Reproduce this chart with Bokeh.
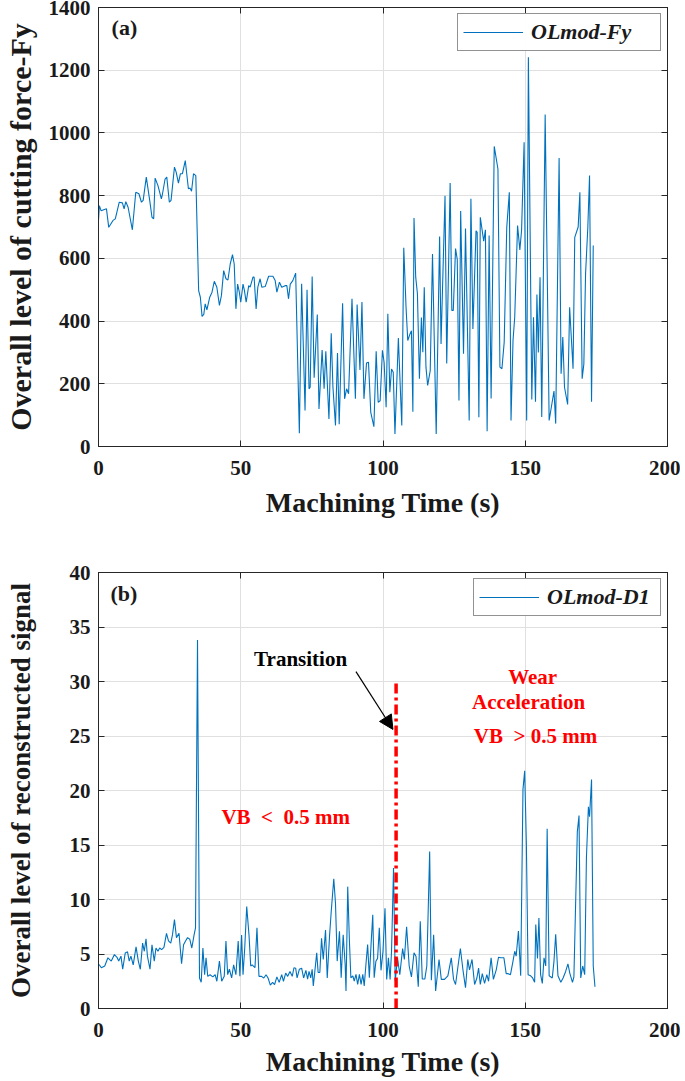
from bokeh.plotting import figure
from bokeh.models import (Range1d, LinearAxis, Legend, LegendItem, Label, Arrow,
                          NormalHead, FixedTicker)
from bokeh.layouts import column
from bokeh.embed import file_html
from bokeh.resources import INLINE

# ---------------- data ----------------
t_fy = [0, 0.3, 0.9, 2.8, 3.6, 5.1, 5.9, 7.3, 8.4, 9.0, 9.6, 10.4, 11.9, 13.1, 14.2, 15.1, 15.7,
        16.8, 18.0, 18.8, 19.4, 19.9, 20.9, 22.1, 22.5, 23.4, 24.0, 24.9, 25.5, 26.7, 27.3, 28.1,
        28.8, 29.5, 30.5, 31.6, 32.2, 32.7, 33.4, 34.2, 35.2, 35.8, 36.4, 37.0, 37.5, 38.1, 39.1,
        39.9, 40.7, 41.6, 42.5, 43.2, 44.0, 44.8, 45.5, 46.3, 47.1, 47.7, 48.3, 48.9, 49.5, 50.0,
        50.8, 51.3, 51.9, 52.8, 53.3, 54.3, 54.7, 55.4, 56.0, 56.8, 57.4, 58.6, 59.8, 61.3, 62.1,
        62.7, 63.6, 64.4, 65.6, 66.2, 66.8, 67.4, 68.3, 69.3, 70.6, 71.4, 72.6, 73.3, 74.0, 74.4,
        75.1, 75.8, 76.9, 77.5, 78.6, 79.3, 79.9, 81.0, 81.8, 82.4, 83.3, 84.0, 84.6, 85.8, 86.5,
        87.2, 87.9, 89.1, 90.3, 90.9, 91.9, 92.6, 93.3, 94.2, 94.9, 95.7, 96.8, 97.6, 98.3, 99.0,
        99.8, 100.4, 101.1, 101.7, 102.4, 103.0, 103.6, 104.2, 105.4, 106.6, 107.3, 108.1, 108.7,
        109.5, 110.0, 110.5, 110.9, 111.5, 112.1, 112.8, 113.5, 114.0, 114.5, 115.1, 115.7, 116.6,
        117.4, 118.7, 119.9, 120.4, 121.8, 122.4, 123.6, 124.2, 124.7, 125.5, 126.1, 126.7, 127.3,
        128.3, 129.0, 130.3, 130.9, 131.6, 132.7, 133.1, 133.7, 134.2, 135.4, 136.0, 136.6, 137.3,
        138.0, 139.1, 140.4, 141.1, 141.8, 142.6, 143.5, 144.4, 145.0, 145.7, 146.3, 147.3, 148.1,
        148.7, 149.6, 150.5, 151.1, 152.3, 152.9, 153.6, 154.1, 154.6, 155.2, 155.8, 157.0, 158.4,
        160.1, 160.7, 161.9, 162.6, 163.2, 163.8, 164.9, 165.6, 166.8, 167.4, 168.6, 169.2, 170.0,
        170.6, 171.2, 172.0, 172.6, 173.3, 173.9, 174.5]
fy = [721, 768, 752, 758, 699, 721, 726, 779, 777, 758, 781, 763, 691, 811, 806, 779, 785,
      859, 785, 731, 726, 856, 832, 790, 806, 853, 859, 779, 785, 891, 875, 840,
      870, 870, 912, 822, 824, 814, 870, 864, 497, 476, 415, 421, 455, 436, 476,
      492, 527, 508, 450, 481, 561, 535, 531, 582, 612, 582, 439, 518, 492, 460,
      518, 497, 460, 513, 508, 540, 540, 439, 508, 535, 508, 510, 543, 543, 529,
      492, 524, 508, 513, 513, 471, 518, 529, 553, 42, 519, 115, 500, 184, 189,
      542, 219, 421, 120, 308, 184, 304, 88, 361, 190, 67, 298, 71, 457, 152,
      184, 168, 471, 152, 453, 244, 461, 152, 266, 269, 109, 63, 304, 141, 146,
      307, 268, 125, 423, 173, 247, 237, 40, 346, 67, 634, 444, 338,
      359, 369, 111, 729, 540, 487, 216, 411, 301, 508, 253, 195, 242,
      614, 40, 670, 327, 800, 265, 840, 434, 434, 631, 597, 147, 751,
      296, 695, 83, 790, 375, 688, 683, 93, 731, 655, 691, 49,
      673, 153, 957, 885, 253, 248, 333, 699, 811, 83, 338, 412, 705,
      627, 688, 970, 83, 1241, 150, 412, 143, 485, 300, 540, 94, 1059,
      83, 177, 73, 920, 232, 349, 189, 134, 444, 248, 667, 700, 811,
      216, 263, 551, 700, 864, 143, 641]

t_d1 = [0.2, 1.0, 2.2, 3.3, 4.5, 5.6, 6.5, 7.1, 7.9, 8.5, 9.4, 10.2, 10.8, 11.4, 12.2, 13.2, 14.0,
        14.7, 15.5, 16.1, 16.7, 17.2, 18.1, 18.8, 19.6, 20.2, 20.9, 21.5, 22.2, 23.0, 23.9, 24.6,
        25.4, 26.0, 26.7, 27.4, 28.3, 29.2, 29.9, 30.6, 31.3, 32.1, 32.8, 33.6, 34.1, 34.8, 35.5,
        36.1, 36.7, 37.3, 37.8, 38.4, 39.2, 40.2, 41.0, 41.6, 42.5, 43.3, 44.2, 44.8, 45.4, 46.0,
        46.8, 47.5, 48.3, 49.1, 49.7, 50.3, 50.8, 51.4, 52.1, 52.9, 53.5, 54.0, 55.0, 55.7, 56.4,
        57.3, 58.1, 58.9, 59.6, 60.4, 61.2, 61.9, 62.7, 63.5, 64.4, 65.0, 65.8, 66.5, 67.3, 68.1,
        68.7, 69.3, 69.8, 70.6, 71.4, 72.1, 72.9, 73.5, 74.0, 74.6, 75.1, 75.5, 76.0, 76.7, 77.2,
        77.8, 78.4, 79.0, 79.8, 80.4, 81.2, 81.8, 82.7, 83.3, 83.9, 84.7, 85.3, 86.0, 86.7, 87.0,
        87.6, 88.2, 88.7, 89.4, 89.9, 90.5, 91.1, 91.7, 92.3, 92.9, 93.4, 94.0, 94.6, 95.2, 95.8,
        96.4, 96.9, 97.5, 98.1, 98.7, 99.3, 100.0, 100.7, 101.3, 101.9, 102.5, 103.0, 103.7, 104.3,
        105.1, 105.9, 106.9, 107.5, 108.3, 109.2, 110.0, 110.9, 111.6, 112.4, 113.1, 113.8, 114.7,
        115.4, 116.4, 117.0, 117.8, 118.5, 119.7, 120.5, 121.6, 122.8, 124.0, 124.8, 125.5, 127.2,
        128.1, 129.0, 129.8, 130.4, 131.3, 132.2, 133.0, 133.6, 134.2, 134.9, 135.7, 136.5, 137.1,
        138.0, 138.8, 139.8, 140.6, 141.4, 142.5, 143.3, 143.9, 144.8, 145.7, 146.3, 146.8, 147.6,
        148.4, 149.2, 149.8, 150.4, 151.0, 151.9, 152.6, 153.3, 153.7, 154.3, 154.8, 155.4, 156.0,
        156.6, 157.2, 157.7, 158.4, 159.5, 160.1, 160.7, 161.5, 162.5, 163.3, 164.2, 165.0, 165.7,
        166.6, 167.1, 168.3, 168.9, 169.5, 170.2, 170.9, 171.5, 172.2, 172.6, 173.3, 173.9, 174.5]
d1 = [4.04, 3.74, 3.9, 4.65, 4.35, 4.95, 4.7, 4.35, 4.8, 3.6, 5.1, 5.2, 4.35, 4.8, 4.0, 5.65, 4.35,
      3.6, 6.0, 5.25, 6.4, 4.8, 3.6, 5.85, 4.35, 5.55, 5.25, 5.55, 5.4, 5.6, 6.9, 6.2,
      6.0, 6.75, 8.15, 6.5, 6.9, 4.1, 5.85, 6.2, 6.5, 6.35, 5.55, 6.75, 7.4, 33.8, 2.8,
      2.4, 5.55, 3.1, 4.65, 2.95, 3.1, 2.9, 3.1, 2.5, 4.35, 2.5, 2.95, 6.2, 3.1, 3.6,
      2.8, 4.0, 3.1, 6.2, 2.95, 6.75, 3.1, 5.55, 9.35, 6.75, 3.9, 4.0, 3.74, 7.4, 2.95,
      2.95, 2.8, 3.1, 2.8, 2.15, 2.4, 2.2, 2.9, 2.4, 3.1, 2.5, 3.25, 2.95, 3.4, 2.95,
      3.74, 3.7, 2.8, 3.6, 3.7, 2.8, 3.5, 2.7, 3.4, 2.8, 3.6, 2.07, 3.3, 5.1, 3.3,
      3.3, 6.45, 4.5, 7.2, 2.8, 6.6, 8.9, 11.9, 9.66, 4.35, 7.08, 2.82, 6.77, 4.04, 1.61,
      11.18, 6.17, 2.82, 2.98, 2.52, 3.13, 2.22, 3.13, 2.22, 3.13, 2.07, 4.04, 5.86, 2.82, 5.86,
      8.6, 2.82, 4.34, 4.6, 7.4, 3.5, 5.25, 9.2, 2.67, 4.65, 2.67, 5.25, 12.9, 2.5,
      4.65, 3.1, 5.5, 4.5, 7.5, 3.9, 2.9, 5.1, 4.8, 2.0, 8.0, 2.7, 2.7,
      3.9, 14.4, 2.6, 6.77, 1.6, 4.5, 2.67, 2.67, 3.0, 4.65, 2.67, 2.2, 5.5,
      3.55, 1.9, 4.5, 3.55, 4.5, 2.2, 2.8, 3.7, 2.2, 3.2, 2.3, 3.1, 2.5,
      4.65, 2.67, 3.55, 4.7, 4.65, 4.65, 3.2, 3.2, 3.1, 4.35, 5.25, 4.8, 7.1,
      3.0, 20.1, 21.8, 15.0, 3.1, 3.0, 2.8, 2.4, 7.7, 4.6, 8.3, 3.1, 2.3,
      4.65, 3.9, 16.5, 3.0, 2.8, 4.35, 6.8, 3.0, 2.4, 2.8, 3.4, 4.1, 3.2,
      2.4, 2.9, 16.2, 17.7, 2.8, 3.9, 3.1, 13.8, 18.5, 17.6, 21.0, 3.9, 2.0]

x_ticks = [0, 50, 100, 150, 200]
y_ticks_a = [0, 200, 400, 600, 800, 1000, 1200, 1400]
y_ticks_b = [0, 5, 10, 15, 20, 25, 30, 35, 40]

# ---------------- styling ----------------
FONT = "Liberation Serif"
BLUE = "#0072BD"
AX = "#262626"
TXT = "#1a1a1a"
NB = "\u00a0"


def style_axis(ax, labels=True):
    ax.axis_line_color = AX
    ax.axis_line_width = 1
    ax.major_tick_line_color = AX
    ax.major_tick_in = 6
    ax.major_tick_out = 0
    ax.minor_tick_line_color = None
    if labels:
        ax.major_label_text_font = FONT
        ax.major_label_text_font_style = "bold"
        ax.major_label_text_font_size = "21px"
        ax.major_label_text_color = TXT
    else:
        ax.major_label_text_font_size = "0px"
        ax.major_label_text_color = None
        ax.major_label_standoff = 0


def make_fig(ymax, yticks, ylabel, ylabel_size, height, top_b, bottom_b,
             label_standoff_y, tick_standoff_x, label_standoff_x):
    p = figure(width=680, height=height,
               x_range=Range1d(0, 200), y_range=Range1d(0, ymax),
               output_backend="svg", toolbar_location=None,
               min_border_left=97, min_border_right=13,
               min_border_top=top_b, min_border_bottom=bottom_b)
    p.xaxis.ticker = FixedTicker(ticks=x_ticks)
    p.yaxis.ticker = FixedTicker(ticks=yticks)
    style_axis(p.xaxis[0])
    style_axis(p.yaxis[0])
    p.xaxis.major_label_standoff = tick_standoff_x
    p.yaxis.major_label_standoff = 8
    p.xaxis.axis_label = "Machining Time (s)"
    p.yaxis.axis_label = ylabel
    for ax in (p.xaxis[0], p.yaxis[0]):
        ax.axis_label_text_font = FONT
        ax.axis_label_text_font_style = "bold"
        ax.axis_label_text_color = TXT
    p.xaxis.axis_label_text_font_size = "28px"
    p.yaxis.axis_label_text_font_size = ylabel_size
    p.xaxis.axis_label_standoff = label_standoff_x
    p.yaxis.axis_label_standoff = label_standoff_y
    ra = LinearAxis(ticker=FixedTicker(ticks=yticks))
    style_axis(ra, labels=False)
    p.add_layout(ra, "right")
    ta = LinearAxis(ticker=FixedTicker(ticks=x_ticks))
    style_axis(ta, labels=False)
    p.add_layout(ta, "above")
    p.grid.grid_line_color = "#e0e0e0"
    p.grid.grid_line_width = 1
    p.outline_line_color = AX
    p.background_fill_color = "white"
    p.border_fill_color = "white"
    return p


def add_legend(p, r, text, label_w):
    leg = Legend(items=[LegendItem(label=text, renderers=[r])], location="top_right")
    leg.label_text_font = FONT
    leg.label_text_font_style = "bold italic"
    leg.label_text_font_size = "22px"
    leg.label_text_color = TXT
    leg.border_line_color = AX
    leg.border_line_width = 1.3
    leg.glyph_width = 60
    leg.glyph_height = 18
    leg.label_standoff = 8
    leg.label_width = label_w
    leg.label_height = 18
    leg.padding = 5
    leg.margin = 6
    leg.spacing = 0
    p.add_layout(leg)


# ---------------- (a) ----------------
p1 = make_fig(1400, y_ticks_a, "Overall level of cutting force-Fy", "30px", 556, 7, 110, 9, 14, 9)
r1 = p1.line(t_fy, fy, line_color=BLUE, line_width=1.1)
add_legend(p1, r1, "OLmod-Fy", 124)
p1.add_layout(Label(x=4.6, y=1337, text="(a)", text_font=FONT, text_font_style="bold",
                    text_font_size="22px", text_baseline="middle", text_color=TXT))

# ---------------- (b) ----------------
p2 = make_fig(40, y_ticks_b, "Overall level of reconstructed signal", "27px", 523, 16, 70, 31, 14, 6)
r2 = p2.line(t_d1, d1, line_color=BLUE, line_width=1.1)
add_legend(p2, r2, "OLmod-D1", 108)
p2.add_layout(Label(x=4.2, y=38.1, text="(b)", text_font=FONT, text_font_style="bold",
                    text_font_size="22px", text_baseline="middle", text_color=TXT))

p2.line([104.6, 104.6], [0, 30], line_color="#ff0000", line_width=3.5, line_dash="10 4 3 4")

p2.add_layout(Arrow(end=NormalHead(size=14, fill_color="black", line_color="black"),
                    x_start=90.5, y_start=30.9, x_end=103.5, y_end=25.6,
                    line_color="black", line_width=1.2))


def txt(p, x, y, s, color, align="left"):
    p.add_layout(Label(x=x, y=y, text=s, text_font=FONT, text_font_style="bold",
                       text_font_size="21px", text_color=color, text_align=align,
                       text_baseline="middle"))


txt(p2, 54.7, 32.1, "Transition", "black")
txt(p2, 43.2, 17.6, "VB" + NB * 2 + "<" + NB * 2 + "0.5 mm", "#ff0000")
txt(p2, 152.6, 30.4, "Wear", "#ff0000", "center")
txt(p2, 151.2, 28.1, "Acceleration", "#ff0000", "center")
txt(p2, 131.9, 25.0, "VB" + NB * 2 + ">" + NB + "0.5 mm", "#ff0000")

layout = column(p1, p2)
open("out.html", "w").write(file_html(layout, INLINE))
